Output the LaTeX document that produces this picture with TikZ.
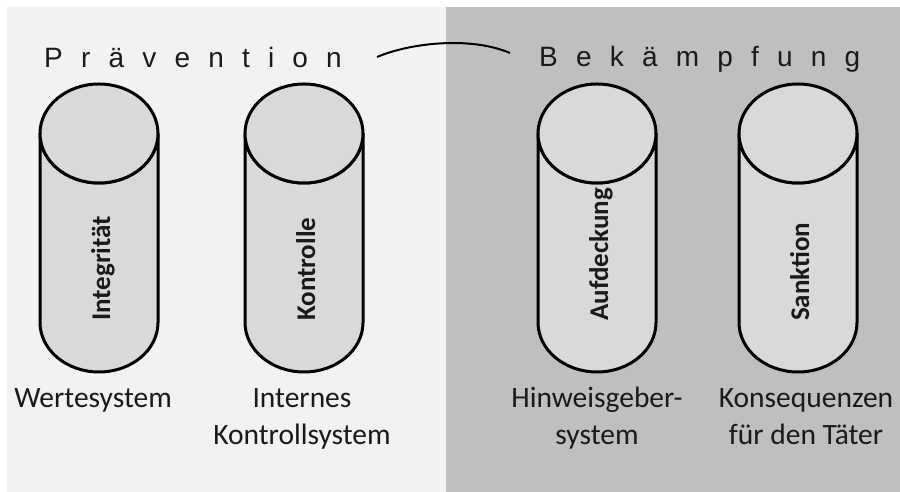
\documentclass[tikz,border=0pt]{standalone}
\usepackage{fontspec}
\setmainfont{Carlito}
\newfontfamily\titlefont[LetterSpace=65]{Liberation Sans}
\definecolor{paneleft}{HTML}{F2F2F2}
\definecolor{paneright}{HTML}{BFBFBF}
\definecolor{cylfill}{HTML}{D9D9D9}
\definecolor{inktext}{HTML}{1A1A1A}
\tikzset{
  pillarbody/.style={fill=cylfill, draw=black, line width=3pt, line join=round},
  pillartext/.style={rotate=90, anchor=base west, inner sep=0pt,
    font=\bfseries\fontsize{27}{34}\selectfont, text=inktext},
  caption/.style={align=center, anchor=base, inner sep=0pt,
    font=\fontsize{29.5}{37}\selectfont, text=inktext},
  headline/.style={anchor=base west, inner sep=0pt,
    font=\titlefont\fontsize{28}{34}\selectfont, text=inktext},
  link/.style={draw=black, line width=2pt},
  pics/pillar/.style={code={
    \path[pillarbody] (-59,0) -- (-59,-189)
      arc[start angle=180, end angle=360, x radius=59, y radius=49.5]
      -- (59,0)
      arc[start angle=0, end angle=-180, x radius=59, y radius=49.5] -- cycle;
    \path[pillarbody] (0,0) ellipse[x radius=59, y radius=49.5];
  }}
}
\begin{document}
\begin{tikzpicture}[x=1pt, y=1pt]
  \useasboundingbox (0,0) rectangle (900,492);
  % two background panes
  \fill[paneleft]  (7,0)   rectangle (446,485);
  \fill[paneright] (446,0) rectangle (900,485);

  % headings and the arc linking them
  \node[headline] (prav) at (44,424) {Prävention};
  \node[headline] (bekaem) at (539,425) {Bekämpfung};
  \coordinate (linkL) at (377,435);
  \coordinate (linkR) at (510,439);
  \draw[link] (linkL) .. controls (410,449) and (470,456) .. (linkR);

  % pillars
  \pic at (99,358.5)  {pillar};
  \pic at (304,358.5) {pillar};
  \pic at (597,358.5) {pillar};
  \pic at (798,358.5) {pillar};

  \node[pillartext] (integ) at (110,171) {Integrität};
  \node[pillartext] (kontr) at (315,171) {Kontrolle};
  \node[pillartext] (aufd)  at (608,171) {Aufdeckung};
  \node[pillartext] (sankt) at (809,171) {Sanktion};

  % captions below the pillars (base = baseline of the last line)
  \node[caption] (werte) at (93,84)  {Wertesystem};
  \node[caption] (iks)   at (302,47) {Internes\\Kontrollsystem};
  \node[caption] (hinw)  at (597,47) {Hinweisgeber-\\system};
  \node[caption] (konseq) at (806,47) {Konsequenzen\\für den Täter};
\end{tikzpicture}
\end{document}
